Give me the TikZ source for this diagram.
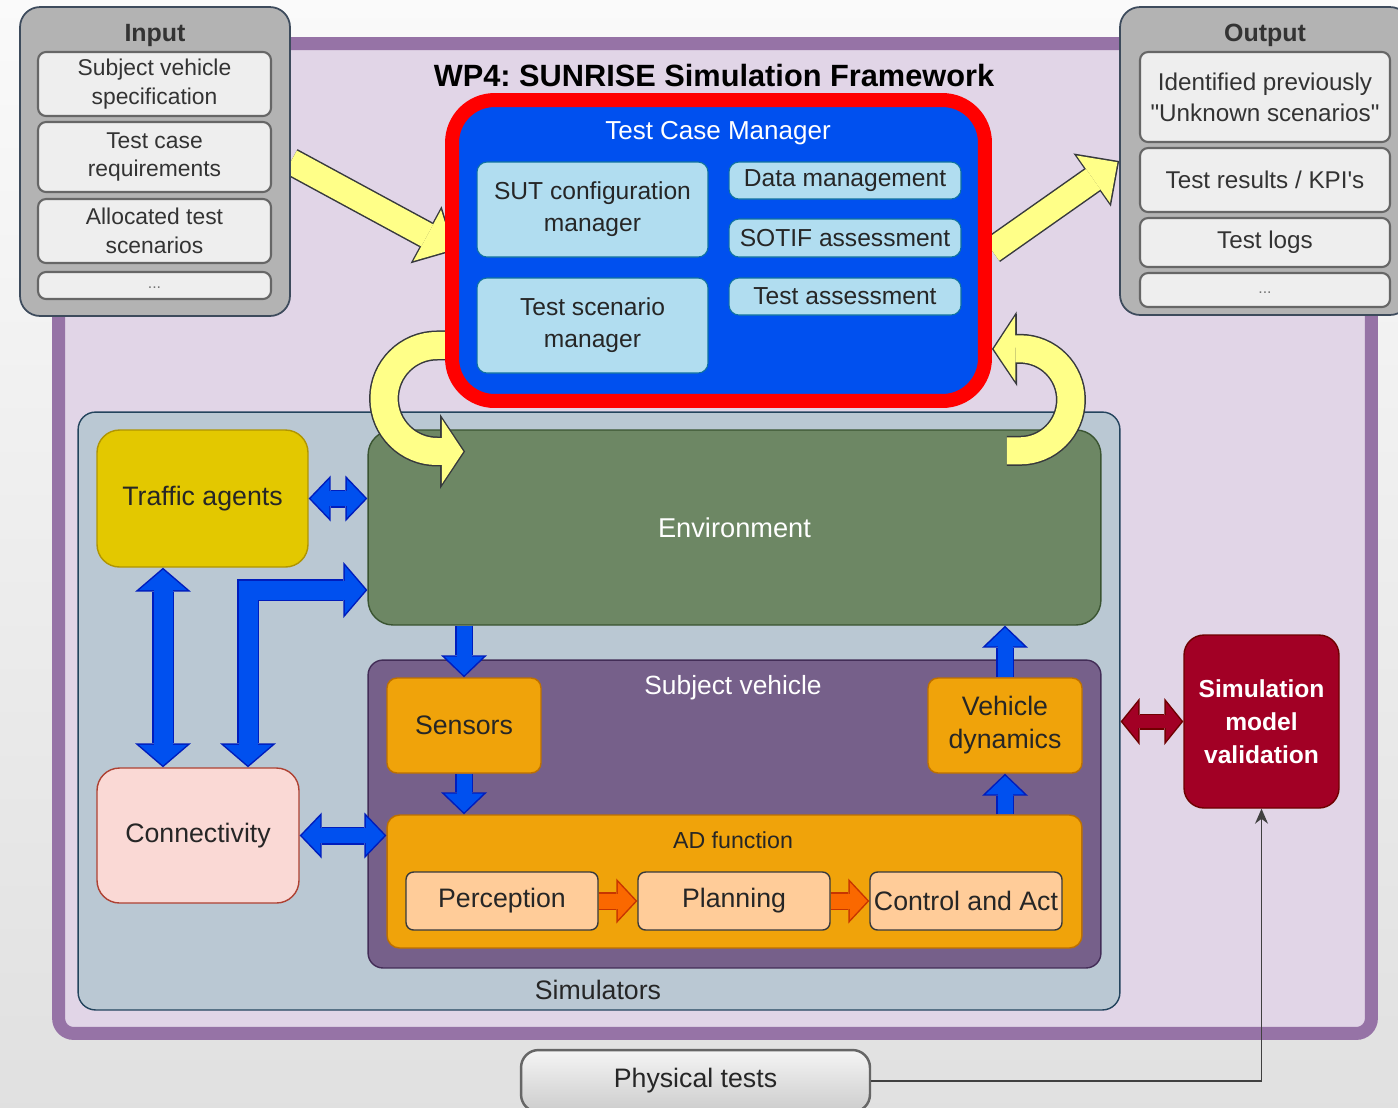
\documentclass[tikz,border=0pt]{standalone}
\usepackage{fontspec}
\setmainfont{Liberation Sans}
\newfontfamily\plainfont{Liberation Sans}
\usetikzlibrary{arrows.meta}

\definecolor{framel}{HTML}{9673A6}
\definecolor{framef}{HTML}{E1D5E7}
\definecolor{panelf}{HTML}{B3B3B3}
\definecolor{panell}{HTML}{3D4B5C}
\definecolor{itemf}{HTML}{EEEEEE}
\definecolor{iteml}{HTML}{666666}
\definecolor{itemt}{HTML}{333333}
\definecolor{tcmred}{HTML}{FF0000}
\definecolor{tcmblue}{HTML}{0050EF}
\definecolor{tboxf}{HTML}{B1DDF0}
\definecolor{tboxl}{HTML}{10739E}
\definecolor{simf}{HTML}{BAC8D3}
\definecolor{siml}{HTML}{23445D}
\definecolor{traf}{HTML}{E3C800}
\definecolor{tral}{HTML}{B09500}
\definecolor{envf}{HTML}{6D8764}
\definecolor{envl}{HTML}{3A5431}
\definecolor{conf}{HTML}{FAD9D5}
\definecolor{conl}{HTML}{AE4132}
\definecolor{svf}{HTML}{76608A}
\definecolor{svl}{HTML}{432D57}
\definecolor{orf}{HTML}{F0A30A}
\definecolor{orl}{HTML}{BD7000}
\definecolor{stepf}{HTML}{FFCC99}
\definecolor{stepl}{HTML}{36393D}
\definecolor{valf}{HTML}{A20025}
\definecolor{vall}{HTML}{6F0000}
\definecolor{bluf}{HTML}{0050EF}
\definecolor{blul}{HTML}{001DBC}
\definecolor{ylwf}{HTML}{FFFF88}
\definecolor{ylwl}{HTML}{36393D}
\definecolor{orgf}{HTML}{FA6800}
\definecolor{orgl}{HTML}{C73500}

\pgfdeclarelayer{back}
\pgfdeclarelayer{mid}
\pgfsetlayers{back,mid,main}

\tikzset{
  % tips: inner (I) and outline (O)
  blI/.tip={Triangle[width=0.77cm,length=0.37cm,line width=0pt]},
  blO/.tip={Triangle[width=0.92cm,length=0.44cm,line width=0pt]},
  bgI/.tip={Triangle[width=0.96cm,length=0.41cm,line width=0pt]},
  bgO/.tip={Triangle[width=1.12cm,length=0.48cm,line width=0pt]},
  rdI/.tip={Triangle[width=0.77cm,length=0.31cm,line width=0pt]},
  rdO/.tip={Triangle[width=0.94cm,length=0.38cm,line width=0pt]},
  ogI/.tip={Triangle[width=0.75cm,length=0.35cm,line width=0pt]},
  ogO/.tip={Triangle[width=0.90cm,length=0.42cm,line width=0pt]},
  ywI/.tip={Triangle[width=1.16cm,length=0.59cm,line width=0pt]},
  ywO/.tip={Triangle[width=1.30cm,length=0.66cm,line width=0pt]},
  ybI/.tip={Triangle[width=1.30cm,length=0.43cm,line width=0pt]},
  ybO/.tip={Triangle[width=1.50cm,length=0.50cm,line width=0pt]},
  blu/.style={draw=bluf, line width=0.30cm, -blI, shorten >=0.042cm,
    preaction={draw=blul, line width=0.36cm, -blO, shorten >=0pt}},
  bluboth/.style={draw=bluf, line width=0.30cm, blI-blI, shorten >=0.042cm, shorten <=0.042cm,
    preaction={draw=blul, line width=0.36cm, blO-blO, shorten >=0pt, shorten <=0pt}},
  blubig/.style={draw=bluf, line width=0.38cm, bgI-bgI, shorten >=0.04cm, shorten <=0.04cm,
    preaction={draw=blul, line width=0.44cm, bgO-bgO, shorten >=0pt, shorten <=0pt}},
  redboth/.style={draw=valf, line width=0.26cm, rdI-rdI, shorten >=0.039cm, shorten <=0.039cm,
    preaction={draw=vall, line width=0.32cm, rdO-rdO, shorten >=0pt, shorten <=0pt}},
  org/.style={draw=orgf, line width=0.30cm, -ogI, shorten >=0.041cm,
    preaction={draw=orgl, line width=0.36cm, -ogO, shorten >=0pt}},
  ylw/.style={draw=ylwf, line width=0.50cm, -ywI, shorten >=0.043cm,
    preaction={draw=ylwl, line width=0.56cm, -ywO, shorten >=0pt}},
  ylwbend/.style={draw=ylwf, line width=0.54cm, -ybI, shorten >=0.036cm,
    preaction={draw=ylwl, line width=0.60cm, -ybO, shorten >=0pt}},
  % boxes
  cell/.style={draw, line width=0.8pt, inner sep=0pt, align=center, text=black!85,
    font=\fontsize{15.2}{18.8}\selectfont},
  fwbox/.style={draw=framel, fill=framef, line width=0.26cm, rounded corners=0.3cm,
    minimum width=26.26cm, minimum height=19.8cm},
  panel/.style={cell, draw=panell, fill=panelf, line width=1pt, rounded corners=0.4cm,
    minimum width=5.4cm, minimum height=6.18cm},
  paneltitle/.style={inner sep=0pt, text=black!80, font=\bfseries\fontsize{14.2}{16}\selectfont},
  initem/.style={cell, draw=iteml, fill=itemf, line width=1.2pt, rounded corners=0.16cm,
    minimum width=4.66cm, text=itemt, font=\fontsize{13}{16.5}\selectfont},
  outitem/.style={initem, minimum width=5cm, font=\fontsize{13.8}{17.6}\selectfont},
  dotitem/.style={text=black!55, font=\fontsize{9}{10}\selectfont},
  tcmbox/.style={cell, draw=tcmred, fill=tcmblue, line width=0.28cm, rounded corners=0.85cm,
    minimum width=10.66cm, minimum height=6.02cm},
  tbox/.style={cell, draw=tboxl, fill=tboxf, line width=0.6pt, rounded corners=0.2cm,
    minimum width=4.62cm, font=\fontsize{14}{18.2}\selectfont},
  simbox/.style={cell, draw=siml, fill=simf, rounded corners=0.35cm,
    minimum width=20.84cm, minimum height=11.96cm},
  orbox/.style={cell, draw=orl, fill=orf, rounded corners=0.2cm,
    minimum width=3.08cm, minimum height=1.9cm},
  stepbox/.style={cell, draw=stepl, fill=stepf, rounded corners=0.15cm,
    minimum width=3.84cm, minimum height=1.16cm},
}

\begin{document}
\begin{tikzpicture}[x=0.02cm, y=-0.02cm]
  \useasboundingbox (0,0) rectangle (1398,1107);

  % frame, simulators and environment sit under the yellow arrows
  \begin{pgfonlayer}{back}
    \shade[top color=black!2, bottom color=black!12] (0,0) rectangle (1398,1107);
    \node[fwbox] (fw) at (715,538.5) {};
    \node[simbox] (sims) at (599,711) {};
    \node[cell, draw=envl, fill=envf, text=white, rounded corners=0.5cm,
      minimum width=14.66cm, minimum height=3.9cm,
      font=\fontsize{15.5}{18}\selectfont] (env) at (734.5,527.5) {Environment};
  \end{pgfonlayer}

  \node[font=\bfseries\fontsize{17.5}{21}\selectfont] (title) at (714,76) {WP4:\ SUNRISE Simulation Framework};

  % input
  \node[panel] (input) at (155,161.5) {};
  \node[paneltitle] (inputlbl) at (155,35) {Input};
  \node[initem, minimum height=1.28cm] (svspec) at (154.5,84) {Subject vehicle\\specification};
  \node[initem, minimum height=1.4cm] (tcreq) at (154.5,157) {Test case\\requirements};
  \node[initem, minimum height=1.28cm] (atscen) at (154.5,231) {Allocated test\\scenarios};
  \node[initem, minimum height=0.54cm] (indots) at (154.5,285.5) {};
  \node[dotitem] (indotslbl) at (154.5,288) {...};

  % output
  \node[panel, minimum width=5.8cm, minimum height=6.16cm] (output) at (1265,161) {};
  \node[paneltitle] (outputlbl) at (1265,35) {Output};
  \node[outitem, minimum height=1.8cm] (unknown) at (1265,97) {Identified previously\\{\plainfont"}Unknown scenarios{\plainfont"}};
  \node[outitem, minimum height=1.28cm] (kpi) at (1265,180) {Test results / KPI{\plainfont'}s};
  \node[outitem, minimum height=0.98cm] (logs) at (1265,242.5) {Test logs};
  \node[outitem, minimum height=0.68cm] (outdots) at (1265,290) {};
  \node[dotitem] (outdotslbl) at (1265,293) {...};

  % test case manager
  \node[tcmbox] (tcm) at (718.5,250.5) {};
  \node[text=white, font=\fontsize{14.8}{17}\selectfont] (tcmlbl) at (718,133) {Test Case Manager};
  \node[tbox, minimum height=1.9cm] (sut) at (592.5,209.5) {SUT configuration\\manager};
  \node[tbox, minimum height=1.9cm] (tsm) at (592.5,325.5) {Test scenario\\manager};
  \node[tbox, minimum width=4.64cm, minimum height=0.74cm] (dm) at (845,180.5) {Data management};
  \node[tbox, minimum width=4.64cm, minimum height=0.76cm] (sotif) at (845,238) {SOTIF assessment};
  \node[tbox, minimum width=4.64cm, minimum height=0.74cm] (tass) at (845,296.5) {Test assessment};

  % simulators
  \node[font=\fontsize{15.2}{18}\selectfont, text=black!85] (simlbl) at (598,990) {Simulators};
  \node[cell, draw=tral, fill=traf, rounded corners=0.45cm,
    minimum width=4.22cm, minimum height=2.74cm] (traffic) at (202.5,498.5) {Traffic agents};
  \node[cell, draw=conl, fill=conf, rounded corners=0.45cm,
    minimum width=4.04cm, minimum height=2.7cm] (conn) at (198,835.5) {Connectivity};
  \node[cell, draw=svl, fill=svf, rounded corners=0.3cm,
    minimum width=14.66cm, minimum height=6.16cm] (sv) at (734.5,814) {};
  \node[text=white, font=\fontsize{15}{18}\selectfont] (svlbl) at (733,688) {Subject vehicle};
  \node[orbox] (sensors) at (464,725.5) {Sensors};
  \node[orbox] (vd) at (1005,725.5) {Vehicle\\dynamics};
  \node[orbox, rounded corners=0.25cm, minimum width=13.9cm, minimum height=2.66cm] (ad) at (734.5,881.5) {};
  \node[font=\fontsize{13.2}{16}\selectfont, text=black!85] (adlbl) at (733,840) {AD function};
  \node[stepbox] (perc) at (502,901) {Perception};
  \node[stepbox] (plan) at (734,901) {Planning};
  \node[stepbox] (ctrl) at (966,901) {Control and Act};

  \node[cell, draw=vall, fill=valf, text=white, rounded corners=0.4cm,
    minimum width=3.1cm, minimum height=3.46cm,
    font=\bfseries\fontsize{14}{18.8}\selectfont] (simval) at (1261.5,721.5) {Simulation\\model\\validation};
  \node[cell, draw=black!60, line width=1.4pt, top color=black!4, bottom color=black!20,
    rounded corners=0.35cm, minimum width=6.98cm, minimum height=1.24cm] (phys) at (695.5,1081) {Physical tests};

  % blue block arrows
  \coordinate (laneA) at (163,0);
  \coordinate (laneB) at (248,590);
  \draw[bluboth] (traffic.east) -- (traffic.east -| env.west);
  \draw[blubig] (traffic.south -| laneA) -- (conn.north -| laneA);
  \draw[blubig] (conn.north -| laneB) |- (env.west |- laneB);
  \draw[blu] (sensors.north |- env.south) -- (sensors.north);
  \draw[blu] (sensors.south) -- (sensors.south |- ad.north);
  \draw[blu] (vd.south |- ad.north) -- (vd.south);
  \draw[blu] (vd.north) -- (vd.north |- env.south);
  \draw[bluboth] (conn.east) -- (conn.east -| ad.west);
  \draw[redboth] (sims.east |- simval.west) -- (simval.west);
  \draw[org] (perc) -- (plan);
  \draw[org] (plan) -- (ctrl);
  \draw[black!75, line width=0.7pt, -{Stealth[length=0.3cm,width=0.26cm]}] (phys.east) -| (simval.south);

  % yellow arrows, under input, output and the manager
  \begin{pgfonlayer}{mid}
    \draw[ylw] (input.east) -- ([xshift=0.2cm]tcm.west);
    \draw[ylw] (tcm.east) -- (output.west);
    \draw[ylwbend] ([xshift=0.2cm,yshift=-1.9cm]tcm.west) -- ++(-18,0)
      arc[start angle=270, end angle=90, radius=53] -- ++(28,0);
    \draw[ylwbend] ([xshift=5.45cm,yshift=-0.43cm]env.north) -- ++(13,0)
      arc[start angle=90, end angle=-90, radius=51] -- ([yshift=-1.97cm]tcm.east);
  \end{pgfonlayer}
\end{tikzpicture}
\end{document}
